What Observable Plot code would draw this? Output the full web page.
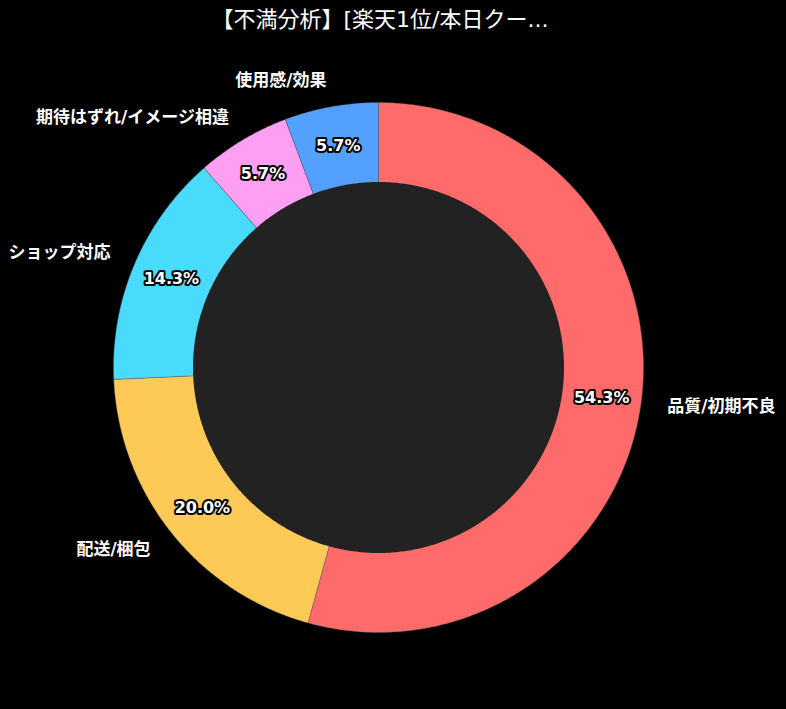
<!DOCTYPE html>
<html>
<head>
<meta charset="utf-8">
<script src="https://cdn.jsdelivr.net/npm/d3@7"></script>
<script src="https://cdn.jsdelivr.net/npm/@observablehq/plot@0.6"></script>
<style>
  html, body { margin: 0; padding: 0; background: #000; }
  #title { height: 40px; line-height: 40px; width: 786px; text-align: center; color: #fff;
    font-family: "DejaVu Sans", "Noto Sans CJK JP", sans-serif; font-size: 22px; padding-right: 26px; box-sizing: border-box; }
  #chart svg { display: block; }
</style>
</head>
<body>
<div id="title"></div>
<div id="chart"></div>
<script>
const titleText = "【不満分析】[楽天1位/本日クー...";
const categories = ["品質/初期不良", "配送/梱包", "ショップ対応", "期待はずれ/イメージ相違", "使用感/効果"];
const counts = [19, 7, 5, 2, 2];
const colors = ["#ff6b6b", "#feca57", "#48dbfb", "#ff9ff3", "#54a0ff"];

document.getElementById("title").textContent = titleText;

const total = d3.sum(counts);
const innerR = 0.7;
const labelR = 1.1;
const pctR = 0.85;

// build wedges (angle clockwise from top)
let acc = 0;
const slices = categories.map((name, i) => {
  const a0 = acc / total * 2 * Math.PI;
  acc += counts[i];
  const a1 = acc / total * 2 * Math.PI;
  return {name, count: counts[i], color: colors[i], a0, a1, mid: (a0 + a1) / 2,
    pct: (counts[i] / total * 100).toFixed(1) + "%"};
});

const wedgePts = [];
for (const s of slices) {
  wedgePts.push({name: s.name, color: s.color, x: 0, y: 0});
  const n = Math.max(2, Math.ceil((s.a1 - s.a0) / (Math.PI / 360)));
  for (let k = 0; k <= n; k++) {
    const a = s.a0 + (s.a1 - s.a0) * k / n;
    wedgePts.push({name: s.name, color: s.color, x: Math.sin(a), y: Math.cos(a)});
  }
  wedgePts.push({name: s.name, color: s.color, x: 0, y: 0});
}
const holePts = d3.range(0, 721).map(k => {
  const a = k / 720 * 2 * Math.PI;
  return {x: innerR * Math.sin(a), y: innerR * Math.cos(a)};
});

const labels = slices.map(s => ({...s, lx: labelR * Math.sin(s.mid), ly: labelR * Math.cos(s.mid),
  px: pctR * Math.sin(s.mid), py: pctR * Math.cos(s.mid)}));

const W = 786, H = 669, R = 265, cx = 378, cy = 327;
const font = "'DejaVu Sans', 'Noto Sans CJK JP', sans-serif";

const chart = Plot.plot({
  width: W, height: H,
  margin: 0,
  style: {background: "#000", fontFamily: font},
  x: {domain: [-cx / R, (W - cx) / R], axis: null},
  y: {domain: [-(H - cy) / R, cy / R], axis: null},
  color: {type: "identity"},
  marks: [
    Plot.line(wedgePts, {x: "x", y: "y", z: "name", fill: "color", stroke: "#555", strokeWidth: 0.4, curve: "linear"}),
    Plot.line(holePts, {x: "x", y: "y", fill: "#222222", stroke: "none"}),
    Plot.text(labels.filter(d => d.lx >= 0), {x: "lx", y: "ly", text: "name", textAnchor: "start",
      fill: "#fff", fontSize: 17, fontWeight: "bold"}),
    Plot.text(labels.filter(d => d.lx < 0), {x: "lx", y: "ly", text: "name", textAnchor: "end",
      fill: "#fff", fontSize: 17, fontWeight: "bold"}),
    Plot.text(labels, {x: "px", y: "py", text: "pct", fill: "#fff", stroke: "#000", strokeWidth: 4,
      fontSize: 16, fontWeight: "bold"})
  ]
});
document.getElementById("chart").appendChild(chart);
</script>
</body>
</html>
